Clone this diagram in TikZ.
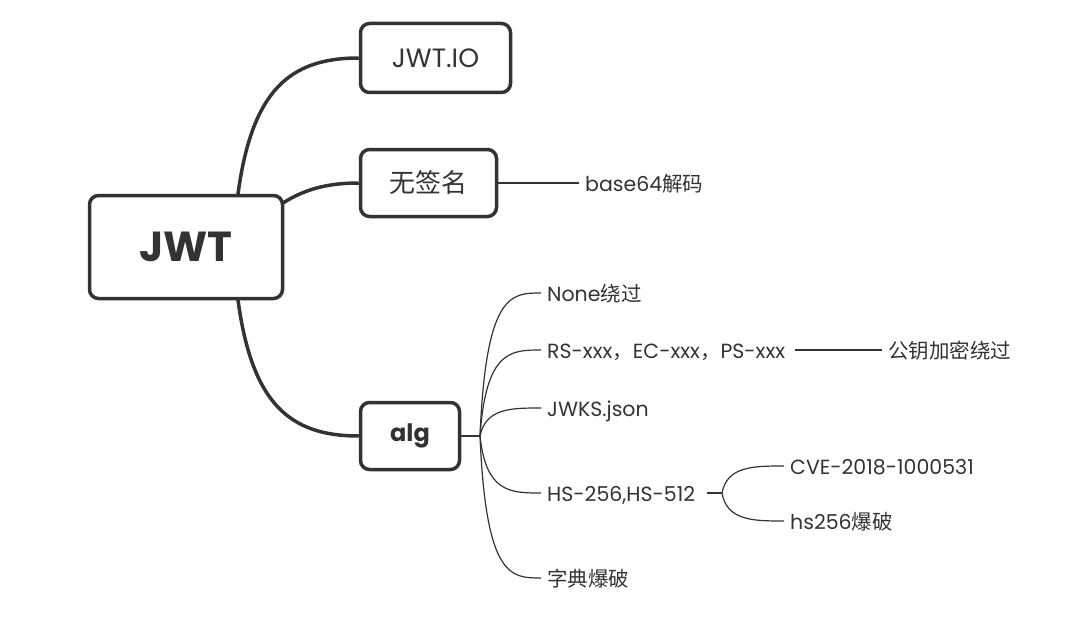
\documentclass[tikz,border=0pt]{standalone}
\usepackage{fontspec}
\setmainfont{Poppins}
\newfontfamily\cjk{Noto Sans CJK SC}
\usetikzlibrary{calc}
\definecolor{ink}{HTML}{333333}
\tikzset{
  topic/.style={draw=ink, line width=3.5pt, rounded corners=9pt, text=ink, inner sep=0pt, align=center},
  leaf/.style={text=ink, inner xsep=6pt, inner ysep=0pt, text height=16pt, text depth=0pt, anchor=west, font=\fontsize{20.5}{20.5}\selectfont},
  thick link/.style={draw=ink, line width=3.5pt},
  thin link/.style={draw=ink, line width=1.2pt},
}
\begin{document}
\begin{tikzpicture}[x=1pt,y=-1pt]
\useasboundingbox (0,0) rectangle (1072,618);
% main topics
\node[topic, minimum width=193pt, minimum height=103pt, font=\fontsize{42}{42}\selectfont\bfseries] (jwt) at (186,247) {JWT};
\node[topic, minimum width=150pt, minimum height=69pt, font=\fontsize{26.5}{26.5}\selectfont] (io) at (435.5,58) {JWT.IO};
\node[topic, minimum width=136pt, minimum height=67pt, font=\fontsize{26}{26}\selectfont\cjk] (nosig) at (428.5,183) {无签名};
\node[topic, minimum width=99pt, minimum height=67pt, font=\fontsize{24}{24}\selectfont\bfseries] (alg) at (410,436) {alg};
% thick connectors
\coordinate (jwtTop) at (238,194);
\coordinate (jwtBot) at (238,300);
\coordinate (jwtTR) at (283,203);
\draw[thick link] (jwtTop) .. controls (252,90) and (290,58) .. (io.west);
\draw[thick link] (jwtTR) .. controls (305,189) and (328,183) .. (nosig.west);
\draw[thick link] (jwtBot) .. controls (252,404) and (290,436) .. (alg.west);
% leaves
\node[leaf] (b64) at (579,183) {base64{\cjk 解码}};
\draw[thin link] (nosig.east) -- (b64.west);

\coordinate (fork) at (480,436);
\draw[thin link] (alg.east) -- (fork);
\node[leaf] (none) at (541,293) {None{\cjk 绕过}};
\node[leaf] (rs) at (541,350) {RS-xxx{\cjk ，}EC-xxx{\cjk ，}PS-xxx};
\node[leaf] (jwks) at (541,408) {JWKS.json};
\node[leaf] (hs) at (541,493) {HS-256,HS-512};
\node[leaf] (dict) at (541,578) {\cjk 字典爆破};
\foreach \n in {none,rs,jwks,hs,dict}{
  \draw[thin link] (fork) .. controls ($(fork |- \n.west)+(6,0)$) and ($(\n.west)+(-30,0)$) .. (\n.west);
}
\node[leaf] (pub) at (882,350) {\cjk 公钥加密绕过};
\draw[thin link] ($(rs.east)+(4,0)$) coordinate (rsEnd) -- (pub.west);

\coordinate (fork2) at (722,493);
\draw[thin link] ($(hs.east)+(6,0)$) coordinate (hsEnd) -- (fork2);
\node[leaf] (cve) at (784,466) {CVE-2018-1000531};
\node[leaf] (hsb) at (784,521) {hs256{\cjk 爆破}};
\foreach \n in {cve,hsb}{
  \draw[thin link] (fork2) .. controls ($(fork2 |- \n.west)+(5,0)$) and ($(\n.west)+(-30,0)$) .. (\n.west);
}
\end{tikzpicture}
\end{document}
